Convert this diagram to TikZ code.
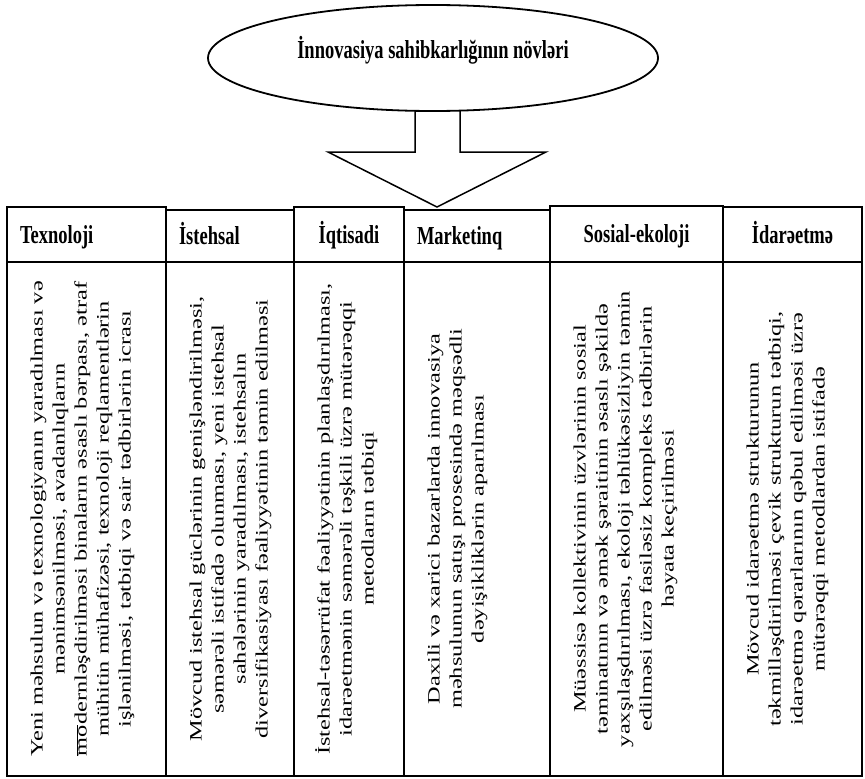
\documentclass[tikz,border=0pt]{standalone}
\usepackage{fontspec}
\setmainfont{Liberation Serif}
\usetikzlibrary{shapes.geometric,calc}

\newcommand\headtxt[1]{\scalebox{1}[1.4]{#1}}
\newcommand\bodytxt[1]{\scalebox{1.4}[1]{\begin{tabular}{@{}c@{}}#1\end{tabular}}}

\begin{document}
\begin{tikzpicture}[x=1pt,y=-1pt,
  titleell/.style={ellipse,draw,line width=1.8pt,minimum width=450pt,minimum height=106pt,inner sep=0pt,outer sep=0pt,text height=16pt,text depth=16pt,font=\fontsize{18.5}{22}\selectfont\bfseries},
  headcell/.style={draw,line width=1.8pt,inner xsep=13pt,inner ysep=0pt,outer sep=0pt,text height=17pt,text depth=0pt,anchor=north west,font=\fontsize{18.5}{22}\selectfont\bfseries},
  bodycell/.style={draw,line width=1.8pt,inner sep=0pt,outer sep=0pt,anchor=north west},
  bodytext/.style={rotate=90,anchor=north,inner sep=0pt,font=\fontsize{17.4}{22}\selectfont},
  blockarr/.style={line width=1.5pt,line join=miter}]
\useasboundingbox (0,0) rectangle (865,779);
\node[titleell] (title) at (433,58) {\headtxt{İnnovasiya sahibkarlığının növləri}};
\coordinate (tip) at (437,207);
\draw[blockarr] ([xshift=-18pt]title.south) -- ++(0,41) -- ++(-87,0) -- (tip) -- ++(109,-55) -- ++(-86,0) -- ([xshift=27pt]title.south);
\foreach \n/\xa/\xb/\yt/\hd/\al in {tex/7/166/207/Texnoloji/left, ist/166/294/210/İstehsal/left, iqt/294/404/207/İqtisadi/center, mar/404/550/210/Marketinq/left, sos/550/723/206/Sosial-ekoloji/center, ida/723/862/207/İdarəetmə/center}{
  \pgfmathsetmacro\w{\xb-\xa-26}
  \pgfmathsetmacro\h{262-\yt}
  \pgfmathsetmacro\wb{\xb-\xa}
  \node[headcell,text width=\w pt,align=\al,minimum height=\h pt] (\n-h) at (\xa,\yt) {\headtxt{\hd}};
  \node[bodycell,minimum width=\wb pt,minimum height=514pt] (\n-b) at (\xa,262) {};
}
\node[bodytext] (tex-t) at ([xshift=20pt]tex-b.west) {\bodytxt{Yeni məhsulun və texnologiyanın yaradılması və\\
mənimsənilməsi, avadanlıqların\\
$\overline{\mbox{mo}}$dernləşdirilməsi binaların əsaslı bərpası, ətraf\\
mühitin mühafizəsi, texnoloji reqlamentlərin\\
işlənilməsi, tətbiqi və sair tədbirlərin icrası}};
\node[bodytext] (ist-t) at ([xshift=20pt]ist-b.west) {\bodytxt{Mövcud istehsal güclərinin genişləndirilməsi,\\
səmərəli istifadə olunması, yeni istehsal\\
sahələrinin yaradılması, istehsalın\\
diversifikasiyası fəaliyyətinin təmin edilməsi}};
\node[bodytext] (iqt-t) at ([xshift=20pt]iqt-b.west) {\bodytxt{İstehsal-təsərrüfat fəaliyyətinin planlaşdırılması,\\
idarəetmənin səmərəli təşkili üzrə mütərəqqi\\
metodların tətbiqi}};
\node[bodytext] (mar-t) at ([xshift=20pt]mar-b.west) {\bodytxt{Daxili və xarici bazarlarda innovasiya\\
məhsulunun satışı prosesində məqsədli\\
dəyişikliklərin aparılması}};
\node[bodytext] (sos-t) at ([xshift=20pt]sos-b.west) {\bodytxt{Müəssisə kollektivinin üzvlərinin sosial\\
təminatının və əmək şəraitinin əsaslı şəkildə\\
yaxşılaşdırılması, ekoloji təhlükəsizliyin təmin\\
edilməsi üzrə fasiləsiz kompleks tədbirlərin\\
həyata keçirilməsi}};
\node[bodytext] (ida-t) at ([xshift=20pt]ida-b.west) {\bodytxt{Mövcud idarəetmə strukturunun\\
təkmilləşdirilməsi çevik strukturun tətbiqi,\\
idarəetmə qərarlarının qəbul edilməsi üzrə\\
mütərəqqi metodlardan istifadə}};
\end{tikzpicture}
\end{document}
